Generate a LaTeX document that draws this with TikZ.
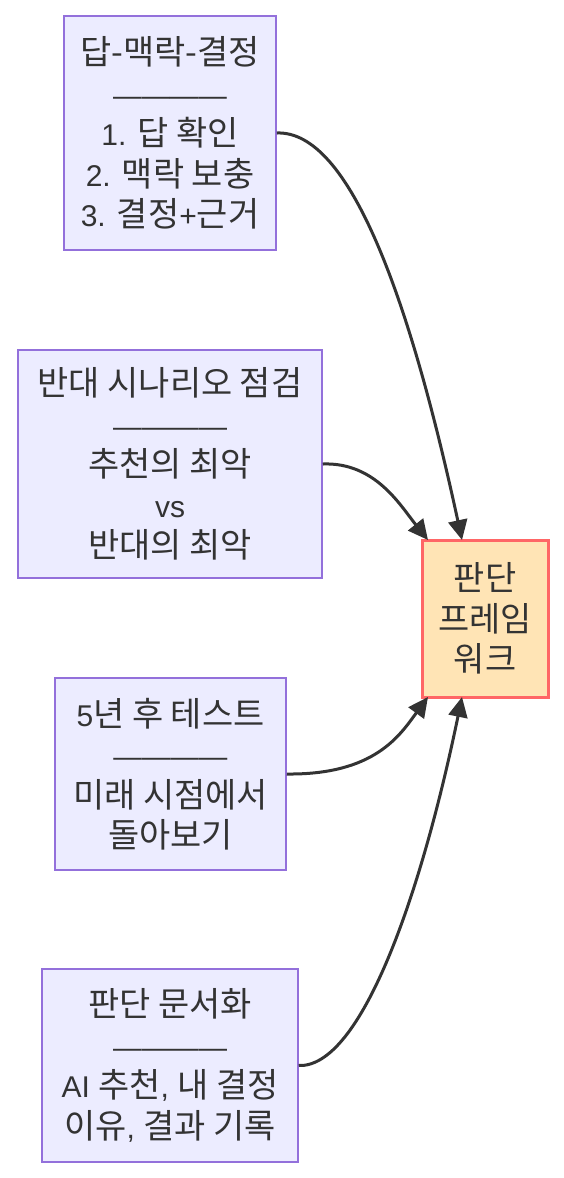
\documentclass[tikz,border=0pt]{standalone}
\usepackage{fontspec}
\setmainfont{Liberation Sans}
\newfontfamily\kr[Scale=1.13]{Noto Sans CJK KR}
\usetikzlibrary{arrows.meta}
\definecolor{boxfill}{HTML}{ECECFF}
\definecolor{boxline}{HTML}{9370DB}
\definecolor{hubfill}{HTML}{FFE4B5}
\definecolor{hubline}{HTML}{FF6666}
\definecolor{ink}{HTML}{333333}
\tikzset{
  x=1pt, y=-1pt,
  card/.style={draw=boxline, fill=boxfill, line width=1.5pt, inner sep=0pt,
    text=ink, align=center, font=\fontsize{30}{40.5}\selectfont},
  hub/.style={draw=hubline, fill=hubfill, line width=3pt, inner sep=0pt,
    text=ink, align=center, font=\fontsize{30}{40.5}\selectfont\kr},
  link/.style={draw=ink, line width=3pt, -{Triangle[length=20pt,width=19pt]}}
}
\newcommand{\sep}{{\fontsize{28.5}{40.5}\selectfont ————}}
\begin{document}
\begin{tikzpicture}
\useasboundingbox (0,0) rectangle (564,1178);
\node[card, minimum width=212pt, minimum height=234pt] (a) at (170,133)
  {{\kr 답-맥락-결정}\\\sep\\1. {\kr 답 확인}\\2. {\kr 맥락 보충}\\3. {\kr 결정}+{\kr 근거}};
\node[card, minimum width=304pt, minimum height=228pt] (b) at (170,464)
  {{\kr 반대 시나리오 점검}\\\sep\\{\kr 추천의 최악}\\vs\\{\kr 반대의 최악}};
\node[card, minimum width=231pt, minimum height=192pt] (c) at (170.5,774)
  {5{\kr 년 후 테스트}\\\sep\\{\kr 미래 시점에서}\\{\kr 돌아보기}};
\node[card, minimum width=256pt, minimum height=193pt] (d) at (170,1065.5)
  {{\kr 판단 문서화}\\\sep\\AI {\kr 추천}, {\kr 내 결정}\\{\kr 이유}, {\kr 결과 기록}};
\node[hub, minimum width=126pt, minimum height=157pt] (h) at (485,618.5)
  {판단\\프레임\\워크};
\coordinate (ha) at (462,540);
\coordinate (hb) at (428,540);
\coordinate (hc) at (428,697);
\coordinate (hd) at (462,697);
\draw[link] (a.east) .. controls (350,130) and (410,300) .. (ha);
\draw[link] (b.east) .. controls (375,462) and (400,505) .. (hb);
\draw[link] (c.east) .. controls (375,775) and (400,735) .. (hc);
\draw[link] (d.east) .. controls (360,1068) and (420,900) .. (hd);
\end{tikzpicture}
\end{document}
